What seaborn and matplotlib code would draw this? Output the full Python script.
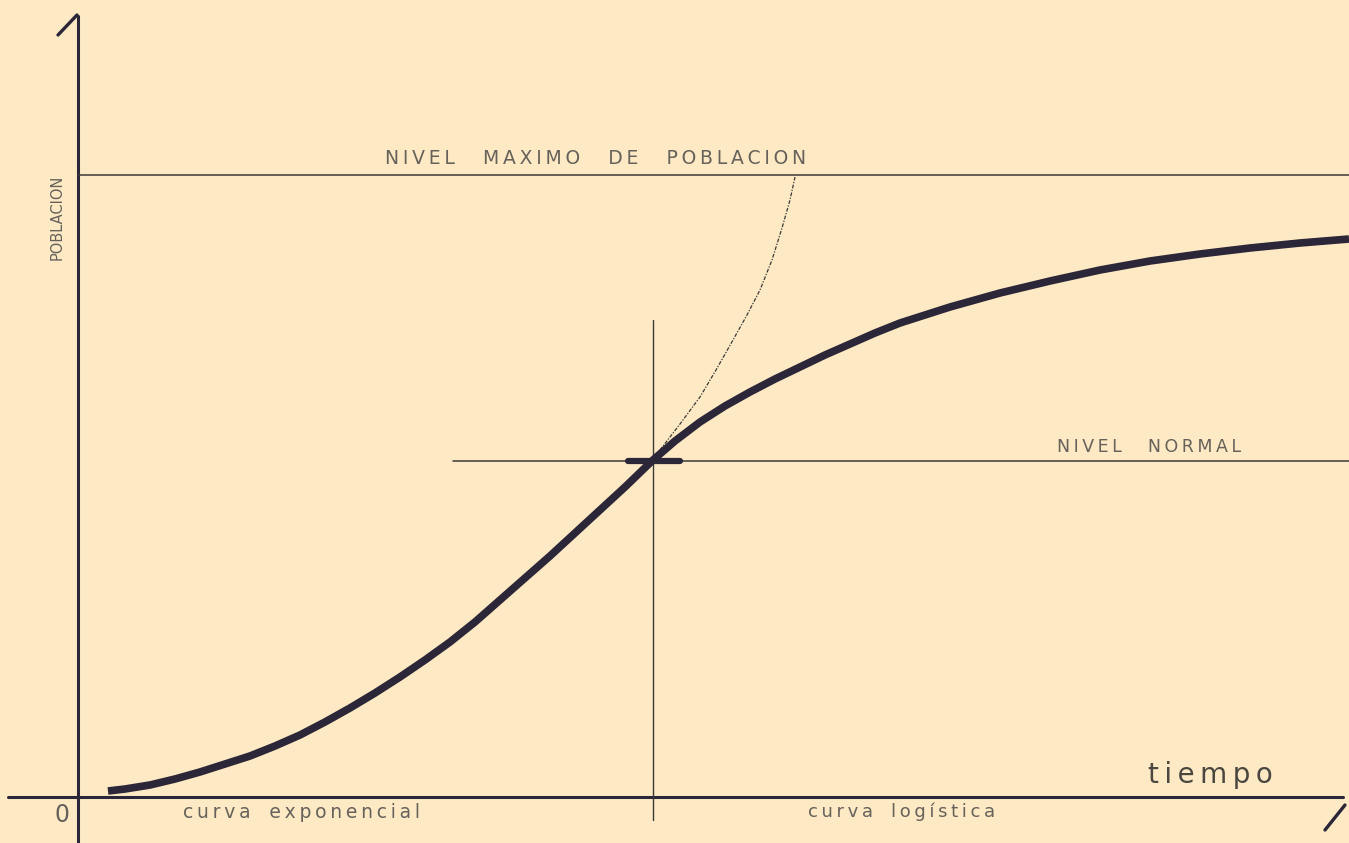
import matplotlib
matplotlib.use("Agg")
import matplotlib.pyplot as plt
import seaborn as sns
import pandas as pd

# values (time, population in drawing units)
logistic_t = [30, 47, 72, 97, 122, 147, 172, 197, 222, 247, 272, 297, 322, 347,
              372, 397, 422, 447, 472, 497, 522, 547, 575, 597, 622, 647, 672,
              697, 722, 747, 772, 797, 822, 847, 872, 897, 922, 972, 1022, 1072,
              1122, 1172, 1222, 1271]
logistic_p = [6, 8, 12, 18, 25, 33, 41, 51, 62, 75, 89, 104, 120, 137,
              155, 175, 197, 219, 241, 264, 287, 310, 337, 356, 375, 391, 405,
              418, 430, 442, 453, 464, 474, 482, 490, 497, 504, 516, 527, 536,
              543, 549, 554, 558]
expo_t = [582, 602, 622, 638, 655, 669, 682, 694, 704, 712, 717]
expo_p = [347, 373, 400, 427, 457, 482, 507, 537, 569, 597, 620]
max_level = 622
normal_level = 336
normal_start = 375
split_t = 575
split_top = 477

bg = "#fdeac4"
ink = "#2b2638"
thin = "#3a3838"
grey = "#66615b"


def spaced(text, gap="\u2009", word_gap="\u2003"):
    return word_gap.join(gap.join(w) for w in text.split())


sns.set_style("white")
plt.rcParams["font.family"] = ["DejaVu Sans"]

fig = plt.figure(figsize=(13.49, 8.43), dpi=100, facecolor=bg)
ax = fig.add_axes([0, 0, 1, 1])
ax.set_facecolor(bg)
ax.set_xlim(-78, 1271)
ax.set_ylim(-46, 797)
ax.axis("off")

df_log = pd.DataFrame({"tiempo": logistic_t, "poblacion": logistic_p})
df_exp = pd.DataFrame({"tiempo": expo_t, "poblacion": expo_p})

# axes of the drawing
ax.plot([0, 0], [-46, 781], color=ink, lw=2.2)
ax.plot([-20, -1], [762, 782], color=ink, lw=2.4, solid_capstyle="round")
ax.plot([-70, 1265], [0, 0], color=ink, lw=2.2)
ax.plot([1247, 1267], [-33, -8], color=ink, lw=2.4, solid_capstyle="round")

# levels
ax.plot([0, 1271], [max_level, max_level], color=thin, lw=1.1)
ax.plot([normal_start, 1271], [normal_level, normal_level], color=thin, lw=1.1)
ax.plot([split_t, split_t], [-23, split_top], color=thin, lw=1.0)
ax.plot([split_t - 25, split_t + 27], [normal_level, normal_level], color=ink, lw=4.5,
        solid_capstyle="round")

sns.lineplot(data=df_exp, x="tiempo", y="poblacion", ax=ax, color=thin, lw=0.9,
             linestyle=(0, (3, 1.2, 1, 1.2)), sort=False)
sns.lineplot(data=df_log, x="tiempo", y="poblacion", ax=ax, color=ink, lw=5.5,
             sort=False, solid_capstyle="butt", solid_joinstyle="round")

txt = dict(color=grey)
ax.text(307, 639, spaced("NIVEL MAXIMO DE POBLACION", word_gap="\u2003\u2002"),
        fontsize=13.5, ha="left", va="center", **txt)
ax.text(979, 350, spaced("NIVEL NORMAL", word_gap="\u2003\u2002"),
        fontsize=12.5, ha="left", va="center", **txt)
ax.text(-21, 580, "POBLACION", fontsize=10.5, rotation=90, ha="center", va="center", **txt)
ax.text(-16, -18, "0", fontsize=17, ha="center", va="center", **txt)
ax.text(105, -15, spaced("curva exponencial"), fontsize=13.5, ha="left", va="center", **txt)
ax.text(730, -15, spaced("curva logística"), fontsize=13, ha="left", va="center", **txt)
ax.text(1070, 22, spaced("tiempo"), fontsize=20, ha="left", va="center",
        color="#4a4640")

fig.savefig("out.png", dpi=100, facecolor=bg)
